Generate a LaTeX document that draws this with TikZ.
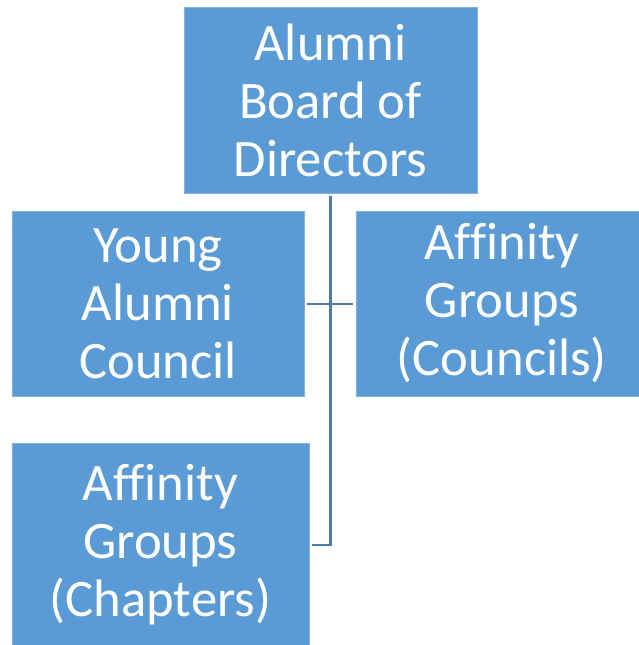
\documentclass[tikz,border=0pt]{standalone}
\usepackage{fontspec}
\setmainfont[Ligatures=NoCommon]{Carlito}
\usetikzlibrary{calc}
\definecolor{boxblue}{HTML}{5B9BD5}
\definecolor{edgeblue}{HTML}{7FB2E0}
\definecolor{lineblue}{HTML}{4A7CAC}
\begin{document}
\begin{tikzpicture}[x=0.75pt,y=-0.75pt,
  orgbox/.style={rectangle, fill=boxblue, draw=edgeblue, line width=0.6pt,
    text=white, align=center, inner sep=0pt,
    font=\fontsize{39.5}{43.5}\selectfont},
  link/.style={draw=lineblue, line width=2.2pt}]
\useasboundingbox (0,0) rectangle (638,645);
\node[orgbox, minimum width=219.75pt, minimum height=139.5pt] (top) at (330.5,100) {Alumni\\Board of\\Directors};
\node[orgbox, minimum width=219pt, minimum height=138.75pt] (left) at (158,303.5) {Young\\Alumni\\Council};
\node[orgbox, minimum width=219pt, minimum height=138.75pt] (right) at (502,303.5) {Affinity\\Groups\\(Councils)};
\node[orgbox, minimum width=222.75pt, minimum height=153pt] (bottom) at (160.5,545) {Affinity\\Groups\\(Chapters)};
\coordinate (vtop) at ($(top.south)+(0,3)$);
\coordinate (vend) at ($(bottom.east)+(3,0)$);
\draw[link] (vtop) |- (vend);
\draw[link] ($(left.east)+(3,0.5)$) -- ($(right.west)+(-3,0.5)$);
\end{tikzpicture}
\end{document}
